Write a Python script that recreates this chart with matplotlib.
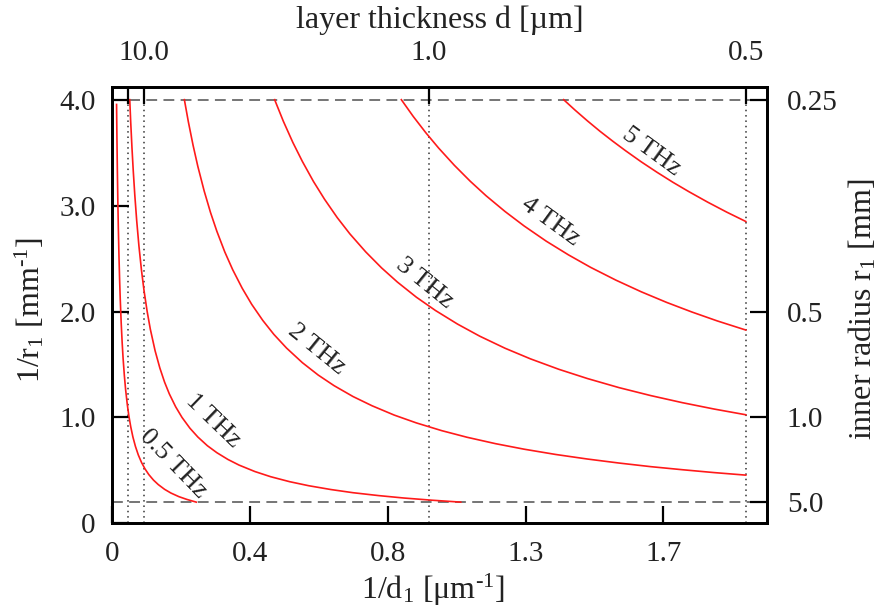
import matplotlib
matplotlib.use('Agg')
import matplotlib.pyplot as plt

plt.rcParams['font.family'] = ['Liberation Serif', 'DejaVu Serif']
plt.rcParams['mathtext.fontset'] = 'custom'
plt.rcParams['mathtext.rm'] = 'Liberation Serif'
plt.rcParams['mathtext.it'] = 'Liberation Serif:italic'

# curves: x = 1/d1 [1/um], y = 1/r1 [1/mm]
x_05 = [0.0134, 0.0145, 0.016, 0.0175, 0.019, 0.021, 0.023, 0.025, 0.028, 0.031, 0.034, 0.038, 0.042, 0.047,
        0.052, 0.058, 0.065, 0.073, 0.082, 0.092, 0.103, 0.115, 0.13, 0.145, 0.165, 0.185, 0.21, 0.235, 0.265]
y_05 = [3.955, 3.655, 3.313, 3.029, 2.789, 2.524, 2.304, 2.12, 1.893, 1.71, 1.559, 1.395, 1.262, 1.128,
        1.019, 0.914, 0.815, 0.726, 0.646, 0.576, 0.515, 0.461, 0.408, 0.366, 0.321, 0.286, 0.252, 0.226, 0.2]
x_1 = [0.055, 0.058, 0.062, 0.066, 0.071, 0.077, 0.084, 0.092, 0.1, 0.11, 0.12, 0.135, 0.15, 0.165, 0.18, 0.2, 0.22,
       0.245, 0.27, 0.3, 0.33, 0.365, 0.4, 0.45, 0.5, 0.56, 0.62, 0.69, 0.76, 0.84, 0.92, 1.01, 1.1]
y_1 = [4.0, 3.793, 3.548, 3.333, 3.099, 2.857, 2.619, 2.391, 2.2, 2.0, 1.833, 1.63, 1.467, 1.333, 1.222, 1.1, 1.0,
       0.898, 0.815, 0.733, 0.667, 0.603, 0.55, 0.489, 0.44, 0.393, 0.355, 0.319, 0.289, 0.262, 0.239, 0.218, 0.2]
x_2 = [0.2275, 0.24, 0.255, 0.27, 0.29, 0.31, 0.33, 0.355, 0.38, 0.41, 0.44, 0.475, 0.51, 0.55, 0.6, 0.65, 0.7,
       0.76, 0.82, 0.89, 0.96, 1.04, 1.12, 1.21, 1.3, 1.4, 1.5, 1.6, 1.7, 1.8, 1.9, 2.0]
y_2 = [4.0, 3.792, 3.569, 3.37, 3.138, 2.935, 2.758, 2.563, 2.395, 2.22, 2.068, 1.916, 1.784, 1.655, 1.517, 1.4, 1.3,
       1.197, 1.11, 1.022, 0.948, 0.875, 0.8125, 0.752, 0.7, 0.65, 0.607, 0.569, 0.535, 0.506, 0.479, 0.455]
x_3 = [0.5125, 0.54, 0.57, 0.6, 0.635, 0.67, 0.71, 0.75, 0.8, 0.85, 0.9, 0.96, 1.02, 1.09, 1.16, 1.24, 1.32, 1.41,
       1.5, 1.6, 1.7, 1.8, 1.9, 2.0]
y_3 = [4.0, 3.796, 3.596, 3.417, 3.228, 3.06, 2.887, 2.733, 2.563, 2.412, 2.278, 2.135, 2.01, 1.881, 1.767, 1.653,
       1.553, 1.454, 1.367, 1.281, 1.206, 1.139, 1.079, 1.025]
x_4 = [0.9125, 0.95, 0.99, 1.03, 1.08, 1.13, 1.18, 1.24, 1.3, 1.37, 1.44, 1.51, 1.59, 1.67, 1.75, 1.83, 1.91, 2.0]
y_4 = [4.0, 3.842, 3.687, 3.544, 3.38, 3.23, 3.093, 2.944, 2.808, 2.664, 2.535, 2.417, 2.296, 2.186, 2.086, 1.995,
       1.911, 1.825]
x_5 = [1.425, 1.46, 1.5, 1.54, 1.58, 1.62, 1.67, 1.72, 1.77, 1.82, 1.88, 1.94, 2.0]
y_5 = [4.0, 3.904, 3.8, 3.701, 3.608, 3.519, 3.413, 3.314, 3.22, 3.132, 3.032, 2.938, 2.85]

curves = [(x_05, y_05), (x_1, y_1), (x_2, y_2), (x_3, y_3), (x_4, y_4), (x_5, y_5)]
curve_labels = ['0.5 THz', '1 THz', '2 THz', '3 THz', '4 THz', '5 THz']
label_x = [0.192, 0.318, 0.644, 0.987, 1.382, 1.703]
label_y = [0.56, 0.97, 1.648, 2.263, 2.846, 3.51]
label_rot = [-46, -44, -39, -39, -36, -36]

# limits (dashed) and marked thicknesses (dotted)
r_limits = [4.0, 0.2]
d_marks = [0.05, 0.1, 1.0, 2.0]

bottom_ticks = [0, 0.435, 0.87, 1.305, 1.74]
bottom_labels = ['0', '0.4', '0.8', '1.3', '1.7']
left_ticks = [0, 1, 2, 3, 4]
left_labels = ['0', '1.0', '2.0', '3.0', '4.0']
top_ticks = [0.05, 0.1, 1.0, 2.0]
top_labels = ['', '10.0', '1.0', '0.5']
right_ticks = [4.0, 2.0, 1.0, 0.2]
right_labels = ['0.25', '0.5', '1.0', '5.0']

fig = plt.figure(figsize=(8.83, 6.13), dpi=100)
ax = fig.add_axes([0.1272, 0.1463, 0.7418, 0.7113])
xlim = (0, 2.068)
ylim = (0, 4.117)

for xv in d_marks:
    ax.axvline(xv, color='#333333', linestyle=(0, (1, 2.5)), linewidth=1.1, zorder=1)
for yv in r_limits:
    ax.axhline(yv, color='#6a6a6a', linestyle=(0, (6, 3.5)), linewidth=1.3, zorder=1)

for (xs, ys) in curves:
    ax.plot(xs, ys, color='#ff1a1a', linewidth=1.2, zorder=2, solid_joinstyle='round')

for t, lx, ly, rot in zip(curve_labels, label_x, label_y, label_rot):
    ax.text(lx, ly, t, rotation=rot, ha='center', va='center', fontsize=19,
            color='#222222', rotation_mode='anchor')

ax.set_xlim(*xlim)
ax.set_ylim(*ylim)
ax.set_xticks(bottom_ticks)
ax.set_xticklabels(bottom_labels)
ax.set_yticks(left_ticks)
ax.set_yticklabels(left_labels)

axt = ax.twiny()
axt.set_xlim(*xlim)
axt.set_xticks(top_ticks)
axt.set_xticklabels(top_labels)

axr = ax.twinx()
axr.set_ylim(*ylim)
axr.set_yticks(right_ticks)
axr.set_yticklabels(right_labels)

for a in (ax, axt, axr):
    a.tick_params(direction='in', length=12, width=1.6, labelsize=21,
                  labelcolor='#222222', pad=12)
    for s in a.spines.values():
        s.set_linewidth(1.8)
ax.tick_params(axis='x', pad=13)
axt.tick_params(axis='x', pad=15)
axr.tick_params(axis='y', pad=14)

ax.set_xlabel(r'1/d$_\mathrm{1}$ [$\mathrm{\mu}$m$^{\text{-1}}$]', fontsize=23, color='#222222', va='center')
ax.xaxis.set_label_coords(0.49, -0.153)
ax.set_ylabel(r'1/r$_\mathrm{1}$ [mm$^{\text{-1}}$]', fontsize=23, color='#222222', va='center')
ax.yaxis.set_label_coords(-0.126, 0.49)
axt.set_xlabel('layer thickness d [\u00b5m]', fontsize=23, color='#222222', va='center')
axt.xaxis.set_label_coords(0.5, 1.153)
axr.set_ylabel(r'inner radius r$_\mathrm{1}$ [mm]', fontsize=23, color='#222222', va='center', rotation=90)
axr.yaxis.set_label_coords(1.145, 0.49)

fig.savefig('out.png', dpi=100)
